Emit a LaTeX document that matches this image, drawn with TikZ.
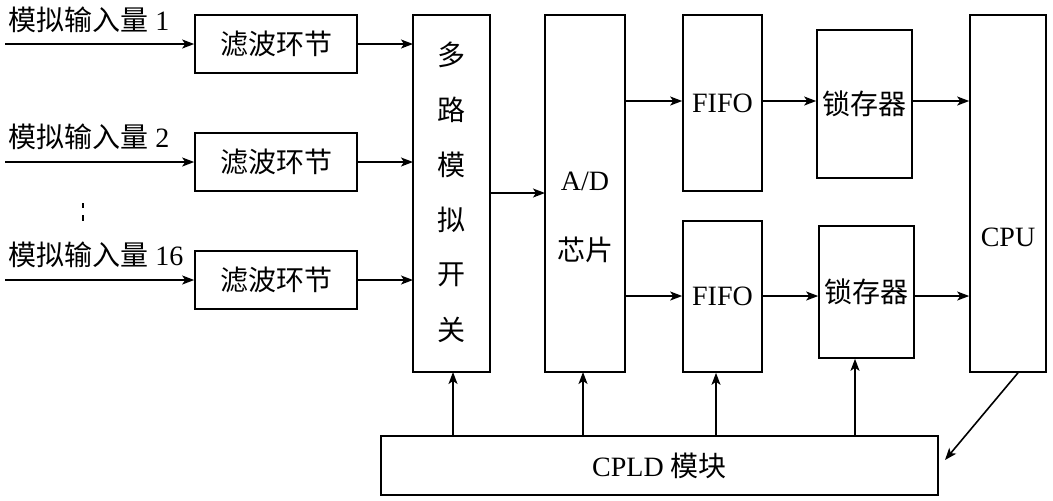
\documentclass[tikz,border=0pt]{standalone}
\usepackage{fontspec}
\usetikzlibrary{arrows.meta}
\setmainfont{Liberation Serif}
\newfontfamily\cjk{Noto Sans CJK SC}
\begin{document}
\begin{tikzpicture}[x=0.5pt,y=-0.5pt,
  box/.style={draw,line width=0.8pt,inner sep=0pt},
  arr/.style={-{Stealth[length=6pt,width=4.5pt,inset=1.5pt]},line width=0.8pt},
  every node/.style={font=\fontsize{14}{16}\selectfont}]
\useasboundingbox (0,0) rectangle (1053,500);
\node[box,minimum width=81pt,minimum height=29pt] (f1) at (276,44) {\cjk 滤波环节};
\node[box,minimum width=81pt,minimum height=29pt] (f2) at (276,162) {\cjk 滤波环节};
\node[box,minimum width=81pt,minimum height=29pt] (f3) at (276,280) {\cjk 滤波环节};
\draw[box] (413,15) rectangle (490,372);
\foreach \c/\y in {多/55,路/110,模/165,拟/220,开/275,关/330} \node[inner sep=0] at (451.5,\y) {\cjk \c};
\draw[box] (545,15) rectangle (625,372);
\node[inner sep=0] (ad) at (585,181) {A/D};
\node[inner sep=0] at (585,250) {\cjk 芯片};
\node[box,minimum width=39.5pt,minimum height=88pt] (fo1) at (722.5,103) {FIFO};
\node[box,minimum width=39.5pt,minimum height=75.5pt] (fo2) at (722.5,296.5) {FIFO};
\node[box,minimum width=47.5pt,minimum height=74pt] (l1) at (864.5,104) {\cjk 锁存器};
\node[box,minimum width=47.5pt,minimum height=66pt] (l2) at (866.5,292) {\cjk 锁存器};
\node[box,minimum width=38pt,minimum height=178.5pt,text depth=0pt] (cpu) at (1008,193.5) {};
\node[inner sep=0] at (1008,237) {CPU};
\node[box,minimum width=278.5pt,minimum height=29.5pt] (cpld) at (659.5,465.5) {CPLD {\cjk 模块}};
\foreach \y/\f in {44/f1,162/f2,280/f3}{
  \coordinate (s\f) at (5,\y);
  \draw[arr] (s\f) -- (\f.west);
  \draw[arr] (\f.east) -- (413,\y);
}
\node[anchor=west,inner sep=0] (t1) at (8,20) {{\cjk 模拟输入量} 1};
\node[anchor=west,inner sep=0] (t2) at (8,137) {{\cjk 模拟输入量} 2};
\node[anchor=west,inner sep=0] (t3) at (8,255) {{\cjk 模拟输入量} 16};
\draw[line width=0.8pt] (83,203) -- (83,208) (83,215) -- (83,221);
\draw[arr] (490,193) -- (545,193);
\draw[arr] (625,101) -- (fo1.west|-0,101);
\draw[arr] (625,296) -- (fo2.west|-0,296);
\draw[arr] (fo1.east|-0,101) -- (l1.west|-0,101);
\draw[arr] (fo2.east|-0,296) -- (l2.west|-0,296);
\draw[arr] (l1.east|-0,101) -- (cpu.west|-0,101);
\draw[arr] (l2.east|-0,296) -- (cpu.west|-0,296);
\draw[arr] (cpld.north-|453,0) -- (453,372);
\draw[arr] (cpld.north-|583,0) -- (583,372);
\draw[arr] (cpld.north-|716,0) -- (fo2.south-|716,0);
\draw[arr] (cpld.north-|855,0) -- (l2.south-|855,0);
\draw[arr] (cpu.south-|1018,0) -- (945,460);
\end{tikzpicture}
\end{document}
